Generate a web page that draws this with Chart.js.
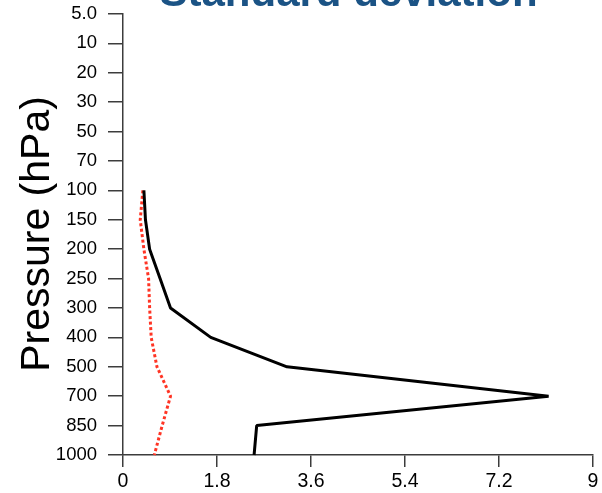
<!DOCTYPE html>
<html>
<head>
<meta charset="utf-8">
<script src="https://cdn.jsdelivr.net/npm/chart.js@4/dist/chart.umd.min.js"></script>
<style>
  html, body { margin: 0; padding: 0; background: #fff; }
  #wrap { width: 602px; height: 493px; position: relative; }
</style>
</head>
<body>
<div id="wrap"><canvas id="c" width="602" height="493"></canvas></div>
<script>
// Pressure levels (hPa), top of the atmosphere first
const levels = ['5.0', '10', '20', '30', '50', '70', '100', '150', '200', '250', '300', '400', '500', '700', '850', '1000'];

// Standard deviation per level (solid black profile)
const sdSolid = [null, null, null, null, null, null, 0.40, 0.43, 0.51, 0.71, 0.91, 1.68, 3.14, 8.15, 2.56, 2.51];

// Standard deviation per level (dotted red profile)
const sdDotted = [null, null, null, null, null, null, 0.38, 0.33, 0.40, 0.49, 0.51, 0.54, 0.65, 0.91, 0.75, 0.60];

// X axis ticks
const xTicks = [0, 1.8, 3.6, 5.4, 7.2, 9];

const titleText = 'Standard deviation';
const yTitleText = 'Pressure (hPa)';

const axisColor = '#3c3c3c';
const fontFamily = '"Liberation Sans", Arial, Helvetica, sans-serif';

// Draws the heading and the rotated pressure label
const textPlugin = {
  id: 'textPlugin',
  afterDraw(chart) {
    const ctx = chart.ctx;
    ctx.save();
    ctx.fillStyle = '#1b5385';
    ctx.font = 'bold 42px ' + fontFamily;
    ctx.textAlign = 'center';
    ctx.textBaseline = 'alphabetic';
    ctx.fillText(titleText, 348.5, 5.5);

    ctx.fillStyle = '#000';
    ctx.font = '41px ' + fontFamily;
    ctx.translate(38, 234);
    ctx.rotate(-Math.PI / 2);
    ctx.textAlign = 'center';
    ctx.textBaseline = 'middle';
    ctx.fillText(yTitleText, 0, 0);
    ctx.restore();
  }
};

new Chart(document.getElementById('c'), {
  type: 'line',
  data: {
    labels: levels,
    datasets: [
      {
        data: sdSolid,
        borderColor: '#000',
        borderWidth: 3,
        borderJoinStyle: 'bevel',
        pointRadius: 0,
        tension: 0,
        spanGaps: false
      },
      {
        data: sdDotted,
        borderColor: '#ff3424',
        borderWidth: 3,
        borderDash: [3, 2.5],
        borderCapStyle: 'butt',
        borderJoinStyle: 'bevel',
        pointRadius: 0,
        tension: 0
      }
    ]
  },
  options: {
    indexAxis: 'y',
    responsive: false,
    animation: false,
    events: [],
    layout: { padding: { top: 14, right: 9, left: 0, bottom: 0 } },
    plugins: {
      legend: { display: false },
      tooltip: { enabled: false },
      title: { display: false }
    },
    scales: {
      x: {
        type: 'linear',
        min: 0,
        max: 9,
        afterBuildTicks(scale) {
          scale.ticks = xTicks.map(v => ({ value: v }));
        },
        afterFit(scale) {
          scale.height = 38;
          scale.paddingLeft = 0;
          scale.paddingRight = 0;
        },
        border: { display: true, color: axisColor, width: 1.5 },
        grid: {
          drawOnChartArea: false,
          drawTicks: true,
          tickLength: 12,
          color: axisColor,
          lineWidth: 1.5
        },
        ticks: {
          color: '#000',
          padding: 3,
          maxRotation: 0,
          font: { family: fontFamily, size: 19.5 },
          callback: v => String(v)
        }
      },
      y: {
        type: 'category',
        offset: false,
        afterFit(scale) {
          scale.width = 123;
          scale.paddingTop = 0;
          scale.paddingBottom = 0;
        },
        border: { display: true, color: axisColor, width: 1.5 },
        grid: {
          drawOnChartArea: false,
          drawTicks: true,
          tickLength: 15,
          color: axisColor,
          lineWidth: 1.5
        },
        ticks: {
          color: '#000',
          padding: 11,
          autoSkip: false,
          font: { family: fontFamily, size: 18.5 }
        }
      }
    }
  },
  plugins: [textPlugin]
});
</script>
</body>
</html>
